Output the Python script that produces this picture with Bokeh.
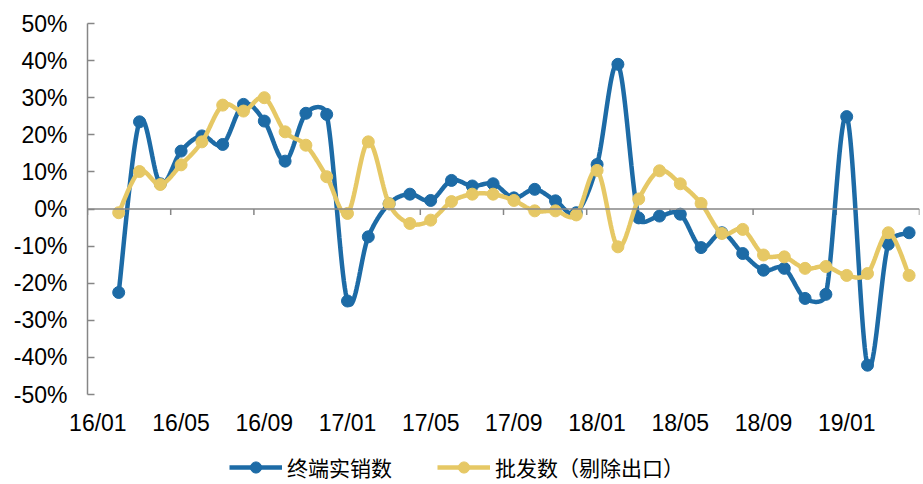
import numpy as np
from bokeh.plotting import figure
from bokeh.layouts import column
from bokeh.models import Range1d, FixedTicker, Span, Legend, LegendItem
from bokeh.embed import file_html
from bokeh.resources import INLINE

# ---- data ----
x_tick_labels = ["16/01", "16/05", "16/09", "17/01", "17/05", "17/09",
                 "18/01", "18/05", "18/09", "19/01"]
all_months = [f"{y:02d}/{m:02d}" for y in (16, 17, 18, 19) for m in range(1, 13)][:40]
months = all_months[1:40]  # 16/02 ... 19/04

retail = [-22.5, 23.5, 6.8, 15.6, 19.7, 17.4, 28.2, 23.7, 12.9, 25.8,
          25.5, -24.8, -7.5, 1.4, 4.0, 2.3, 7.7, 6.2, 6.8, 3.0,
          5.3, 2.2, -1.0, 12.0, 39.0, -2.4, -1.9, -1.4, -10.4, -6.4,
          -12.0, -16.5, -16.0, -24.1, -23.0, 24.9, -42.1, -9.5, -6.4]
wholesale = [-1.0, 10.1, 6.6, 11.9, 18.1, 28.0, 26.4, 30.0, 20.8, 17.2,
             8.7, -1.2, 18.1, 1.4, -3.9, -3.0, 2.0, 4.0, 4.0, 2.3,
             -0.5, -0.5, -1.6, 10.4, -10.2, 2.7, 10.3, 6.8, 1.5, -6.6,
             -5.5, -12.4, -12.9, -16.0, -15.5, -17.9, -17.4, -6.4, -17.9]
y_ticks = list(range(-50, 51, 10))

series_names = ["终端实销数", "批发数（剔除出口）"]
colors = ["#1D6BA6", "#E6C865"]

FRAME_W, FRAME_H = 832, 371
LEFT, RIGHT, TOP = 87, 2, 23
X0, X1, Y0, Y1 = 0, 40, -50, 50
KX = FRAME_W / (X1 - X0)   # px per x unit
KY = FRAME_H / (Y1 - Y0)   # px per y unit

xs = [all_months.index(m) + 0.5 for m in months]


def smooth(x, y, n=24):
    """Excel-like smoothed Bezier through the points (computed in pixel space)."""
    P = np.column_stack([np.asarray(x, float) * KX, np.asarray(y, float) * KY])
    N = len(P)
    t = np.linspace(0, 1, n)[:, None]
    out = []
    for i in range(N - 1):
        p0 = P[i - 1] if i > 0 else P[i]
        p1, p2 = P[i], P[i + 1]
        p3 = P[i + 2] if i + 2 < N else P[i + 1]
        d12 = np.linalg.norm(p2 - p1)
        v1 = p2 - p0
        v2 = p3 - p1
        n1 = np.linalg.norm(v1)
        n2 = np.linalg.norm(v2)
        c1 = p1 + (v1 / n1 * min(n1 / 6, d12 / 2) if n1 > 0 else 0)
        c2 = p2 - (v2 / n2 * min(n2 / 6, d12 / 2) if n2 > 0 else 0)
        seg = ((1 - t) ** 3) * p1 + 3 * ((1 - t) ** 2) * t * c1 + 3 * (1 - t) * t ** 2 * c2 + t ** 3 * p2
        if i > 0:
            seg = seg[1:]
        out.append(seg)
    out = np.vstack(out)
    return out[:, 0] / KX, out[:, 1] / KY


p = figure(frame_width=FRAME_W, frame_height=FRAME_H,
           x_range=Range1d(X0, X1), y_range=Range1d(Y0, Y1),
           output_backend="svg", toolbar_location=None,
           min_border_left=LEFT, min_border_right=RIGHT,
           min_border_top=TOP, min_border_bottom=40)
p.grid.visible = False
p.outline_line_color = None
p.background_fill_color = "white"
p.border_fill_color = "white"

axis_color = "#868686"
font = "Liberation Sans"

# y axis
ya = p.yaxis[0]
ya.ticker = FixedTicker(ticks=y_ticks)
ya.major_label_overrides = {t: f"{t}%" for t in y_ticks}
ya.axis_line_color = axis_color
ya.axis_line_width = 1.5
ya.major_tick_line_color = axis_color
ya.major_tick_line_width = 1.5
ya.major_tick_in = 7
ya.major_tick_out = 0
ya.minor_tick_line_color = None
ya.major_label_text_font = font
ya.major_label_text_font_size = "23px"
ya.major_label_text_color = "black"
ya.major_label_standoff = 20

# x axis (labels only, at bottom)
xa = p.xaxis[0]
label_pos = [all_months.index(l) + 0.5 for l in x_tick_labels]
xa.ticker = FixedTicker(ticks=label_pos)
xa.major_label_overrides = {pos: l for pos, l in zip(label_pos, x_tick_labels)}
xa.axis_line_color = None
xa.major_tick_line_color = None
xa.major_tick_in = 0
xa.major_tick_out = 0
xa.minor_tick_line_color = None
xa.minor_tick_in = 0
xa.minor_tick_out = 0
xa.major_label_text_font = font
xa.major_label_text_font_size = "23px"
xa.major_label_text_color = "black"
xa.major_label_standoff = 15

# zero line acting as the category axis
p.add_layout(Span(location=0, dimension="width", line_color=axis_color, line_width=1.5))
bounds = [all_months.index(l) for l in x_tick_labels] + [len(all_months)]
tick_len = 6 / KY
p.segment(x0=bounds, y0=[0] * len(bounds), x1=bounds, y1=[-tick_len] * len(bounds),
          line_color=axis_color, line_width=1.5)

for vals, col in zip([retail, wholesale], colors):
    sx, sy = smooth(xs, vals)
    p.line(sx, sy, line_color=col, line_width=4.5)
    p.scatter(xs, vals, size=12, fill_color=col, line_color=col)

# ---- legend strip below the chart (its ranges keep the carrier glyphs out of view) ----
leg = figure(width=LEFT + FRAME_W + RIGHT, height=48,
             x_range=Range1d(-3, -2), y_range=Range1d(-3, -2),
             x_axis_type=None, y_axis_type=None,
             output_backend="svg", toolbar_location=None, min_border=0)
leg.grid.visible = False
leg.outline_line_color = None
leg.border_fill_color = "white"
items = []
for name, vals, col in zip(series_names, [retail, wholesale], colors):
    ln = leg.line(xs, vals, line_color=col, line_width=4.5)
    sc = leg.scatter(xs, vals, size=12, fill_color=col, line_color=col)
    items.append(LegendItem(label=name, renderers=[ln, sc]))
legend = Legend(items=items, orientation="horizontal", location=(142, 4),
                label_text_font="Noto Sans CJK SC", label_text_font_size="21px",
                label_text_color="black", glyph_width=53, glyph_height=28,
                label_height=20, label_standoff=5, spacing=45, padding=0, margin=0,
                border_line_color=None, background_fill_alpha=0)
leg.add_layout(legend, "center")

layout = column(p, leg, spacing=0)
open("out.html", "w").write(file_html(layout, INLINE))
